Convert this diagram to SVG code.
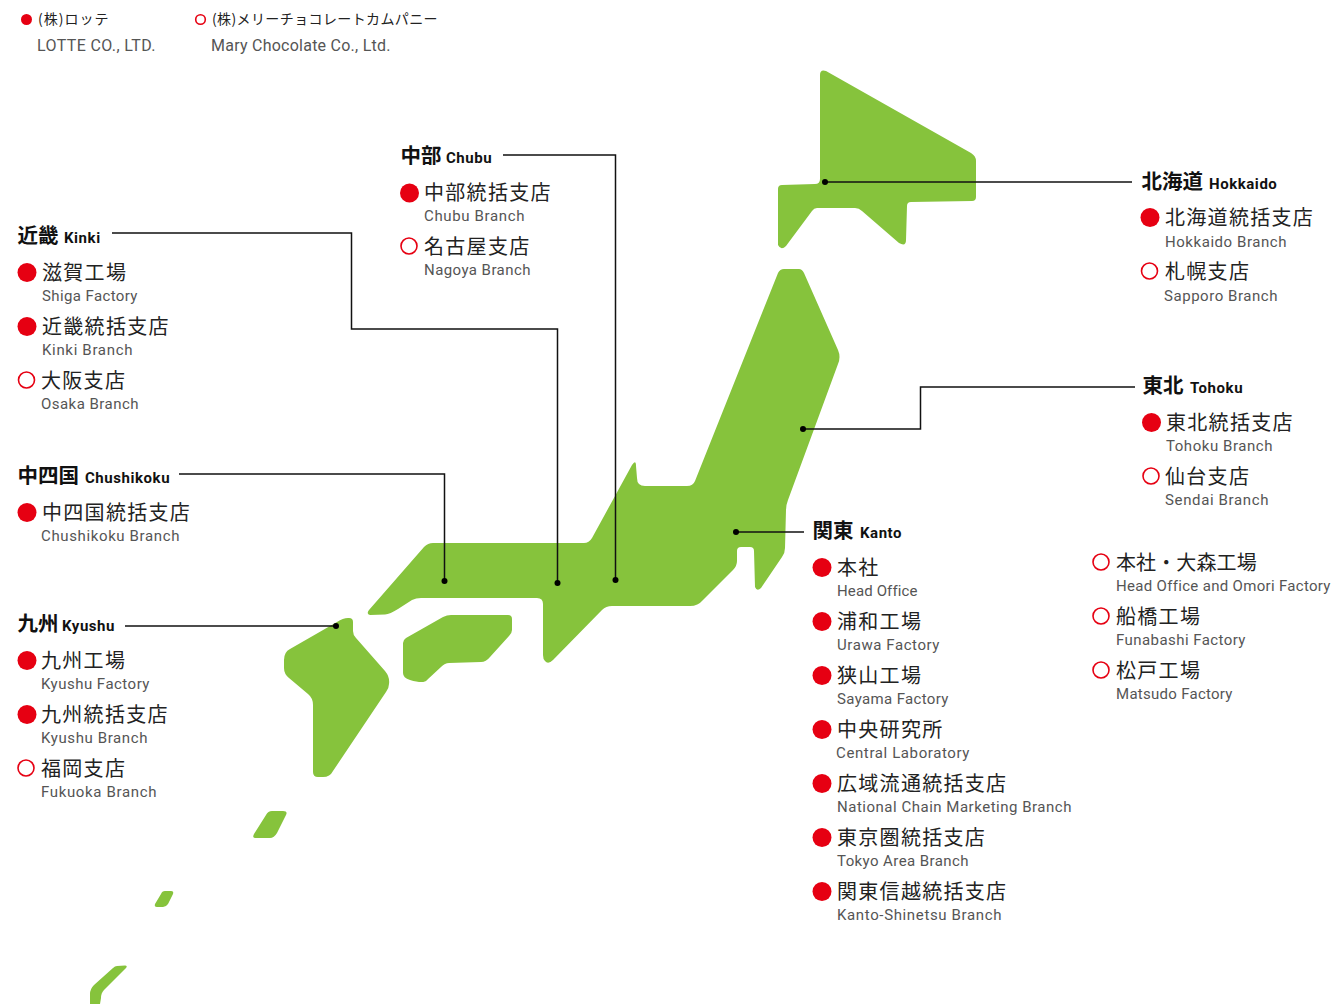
<svg xmlns="http://www.w3.org/2000/svg" width="1336" height="1004" viewBox="0 0 1336 1004">
<style>
text{font-family:"Noto Sans CJK JP","Noto Sans",sans-serif}
.land{fill:#86c33c}
.on{fill:#e60012}
.off{fill:#fff;stroke:#e60012;stroke-width:1.6}
.jp{font-size:20px;letter-spacing:1.3px;fill:#222}
.en{font-family:"Roboto","Liberation Sans",sans-serif;font-size:15px;letter-spacing:.55px;fill:#555}
.h{font-size:20.500px;font-weight:700;fill:#111}
.hl{font-family:"Roboto","Liberation Sans",sans-serif;font-size:15px;letter-spacing:.55px;font-weight:700;fill:#111}
.lg{font-size:14px;letter-spacing:.45px;fill:#222}
.lgen{font-family:"Roboto","Liberation Sans",sans-serif;font-size:16px;letter-spacing:.55px;fill:#555}
.con{fill:none;stroke:#111;stroke-width:1.5;marker-end:url(#dot)}
</style>
<defs><marker id="dot" markerUnits="userSpaceOnUse" markerWidth="8" markerHeight="8" refX="4" refY="4"><circle cx="4" cy="4" r="3" fill="#000"/></marker></defs>
<g id="map">
<path class="land" d="M820,75 Q820,69 826,71 L971,153 Q976,156 976,161 L976,197 Q976,201 972,201 L911,202 Q907,202 907,206 L906,240 Q906,247 899,243 L862,211 Q859,208 855,208 L817,208 Q814,208 812,211 L786,246 Q781,251 778,245 L778,189 Q778,185 782,185 L815,184 Q820,184 820,179 Z"/>
<path class="land" d="M370,615 Q366,614 369,610 L424,547 Q428,543 433,543 L584,543 Q589,543 592,538 L632,465 Q636,459 636,466 L637,478 Q637,486 645,486 L687,486 Q693,486 695,481 L778,273 Q780,269 784,269 L799,269 Q802,269 804,273 L838,350 Q841,357 838,364 L788,500 Q786,505 786,510 L785,548 Q785,553 782,557 L761,588 Q757,592 755,587 L754,551 Q754,547 750,547 L741,547 Q737,547 737,551 L737,561 Q737,566 733,570 L703,600 Q698,606 690,606 L612,606 Q606,606 602,610 L553,660 Q548,665 545,661 Q543,659 543,655 L543,604 Q543,598 537,598 L421,598 Q416,598 412,600 L398,609 Q390,614 385,614.500 Z"/>
<path class="land" d="M403,643 Q403,640 406,638 L443,617 Q447,615 451,615 L508,615 Q512,615 512,619 L512,630 Q512,633 509,636 L490,657 Q486,662 481,662 L449,663 Q445,663 441,667 L427,680 Q424,684 410,680 Q403,678 403,673 Z"/>
<path class="land" d="M337,622 Q343,618 348,618 L349,618 Q353,618 353,622 L353,631 Q353,635 356,638 L385,671 Q390,677 389,684 Q389,688 386,692 L333,771 Q330,777 323,777 L318,777 Q313,777 313,772 L313,705 Q313,698 308,694 L289,678 Q284,674 284,668 L284,660 Q284,652 290,649 Z"/>
<path class="land" d="M272,811 L283,811 Q288,811 286,815 L277,833 Q274,838 270,838 L255,838 Q252,838 254,834 L266,815 Q268,811 272,811 Z"/>
<path class="land" d="M165,891 L171,891 Q174,891 173,894 L168,904 Q166,907 163,907 L157,907 Q154,907 155,904 L161,894 Q162,891 165,891 Z"/>
<path class="land" d="M117,966 L125,965.500 Q128,966 126,968 L104,990 Q101,993 101,998 L100,1004 L90,1004 L90,994 Q90,989 94,985 L113,968 Q115,966 117,966 Z"/>
</g>
<g id="connectors">
<polyline class="con" points="112,233 351.500,233 351.500,329 557.500,329 557.500,583"/>
<polyline class="con" points="503,155 615.500,155 615.500,580"/>
<polyline class="con" points="179,474 444.500,474 444.500,581"/>
<polyline class="con" points="125,626 336,626"/>
<polyline class="con" points="1132,182 825,182"/>
<polyline class="con" points="1135,387 920.500,387 920.500,429 803,429"/>
<polyline class="con" points="804,532 736,532"/>
</g>
<g id="legend">
<circle class="on" cx="26.500" cy="19.500" r="5.500"/><text class="lg" x="38" y="24" textLength="71">(株)ロッテ</text><text class="lgen" x="37" y="51" textLength="119">LOTTE CO., LTD.</text>
<circle class="off" cx="200.500" cy="19.500" r="4.800"/><text class="lg" x="212" y="24" textLength="226">(株)メリーチョコレートカムパニー</text><text class="lgen" x="211" y="51" textLength="180">Mary Chocolate Co., Ltd.</text>
</g>
<g id="chubu">
<text class="h" x="400.500" y="163">中部</text><text class="hl" x="446" y="163">Chubu</text>
<circle class="on" cx="409.500" cy="193" r="9.500"/><text class="jp" x="424" y="200">中部統括支店</text><text class="en" x="424" y="221" textLength="101">Chubu Branch</text>
<circle class="off" cx="409" cy="246" r="8"/><text class="jp" x="424" y="254">名古屋支店</text><text class="en" x="424" y="275" textLength="107">Nagoya Branch</text>
</g>
<g id="kinki">
<text class="h" x="17.500" y="243">近畿</text><text class="hl" x="64" y="243">Kinki</text>
<circle class="on" cx="27" cy="272.500" r="9.500"/><text class="jp" x="42" y="280">滋賀工場</text><text class="en" x="42" y="301" textLength="96">Shiga Factory</text>
<circle class="on" cx="27" cy="326.500" r="9.500"/><text class="jp" x="42" y="334">近畿統括支店</text><text class="en" x="42" y="355" textLength="91">Kinki Branch</text>
<circle class="off" cx="26.500" cy="380" r="8"/><text class="jp" x="41" y="388">大阪支店</text><text class="en" x="41" y="409" textLength="98">Osaka Branch</text>
</g>
<g id="chushikoku">
<text class="h" x="17.500" y="483">中四国</text><text class="hl" x="85" y="483">Chushikoku</text>
<circle class="on" cx="27" cy="512.500" r="9.500"/><text class="jp" x="42" y="520">中四国統括支店</text><text class="en" x="41" y="541" textLength="139">Chushikoku Branch</text>
</g>
<g id="kyushu">
<text class="h" x="17.500" y="631">九州</text><text class="hl" x="62" y="631">Kyushu</text>
<circle class="on" cx="27" cy="660.500" r="9.500"/><text class="jp" x="41" y="668">九州工場</text><text class="en" x="41" y="689" textLength="109">Kyushu Factory</text>
<circle class="on" cx="27" cy="714.500" r="9.500"/><text class="jp" x="41" y="722">九州統括支店</text><text class="en" x="41" y="743" textLength="107">Kyushu Branch</text>
<circle class="off" cx="26" cy="768" r="8"/><text class="jp" x="41" y="776">福岡支店</text><text class="en" x="41" y="797" textLength="116">Fukuoka Branch</text>
</g>
<g id="hokkaido">
<text class="h" x="1141.500" y="189">北海道</text><text class="hl" x="1209" y="189">Hokkaido</text>
<circle class="on" cx="1150" cy="217.500" r="9.500"/><text class="jp" x="1165" y="225">北海道統括支店</text><text class="en" x="1165" y="247" textLength="122">Hokkaido Branch</text>
<circle class="off" cx="1149.500" cy="271" r="8"/><text class="jp" x="1165" y="279">札幌支店</text><text class="en" x="1164" y="301" textLength="114">Sapporo Branch</text>
</g>
<g id="tohoku">
<text class="h" x="1142.500" y="393">東北</text><text class="hl" x="1190" y="393">Tohoku</text>
<circle class="on" cx="1151.500" cy="422.500" r="9.500"/><text class="jp" x="1166" y="430">東北統括支店</text><text class="en" x="1166" y="451" textLength="107">Tohoku Branch</text>
<circle class="off" cx="1151" cy="476" r="8"/><text class="jp" x="1165" y="484">仙台支店</text><text class="en" x="1165" y="505" textLength="104">Sendai Branch</text>
</g>
<g id="kanto">
<text class="h" x="812.500" y="538">関東</text><text class="hl" x="860" y="538">Kanto</text>
<circle class="on" cx="822" cy="567.500" r="9.500"/><text class="jp" x="837" y="575">本社</text><text class="en" x="837" y="596" textLength="81">Head Office</text>
<circle class="on" cx="822" cy="621.500" r="9.500"/><text class="jp" x="837" y="629">浦和工場</text><text class="en" x="837" y="650" textLength="103">Urawa Factory</text>
<circle class="on" cx="822" cy="675.500" r="9.500"/><text class="jp" x="837" y="683">狭山工場</text><text class="en" x="837" y="704" textLength="112">Sayama Factory</text>
<circle class="on" cx="822" cy="729.500" r="9.500"/><text class="jp" x="837" y="737">中央研究所</text><text class="en" x="836" y="758" textLength="134">Central Laboratory</text>
<circle class="on" cx="822" cy="783.500" r="9.500"/><text class="jp" x="837" y="791">広域流通統括支店</text><text class="en" x="837" y="812" textLength="235">National Chain Marketing Branch</text>
<circle class="on" cx="822" cy="837.500" r="9.500"/><text class="jp" x="837" y="845">東京圏統括支店</text><text class="en" x="837" y="866" textLength="132">Tokyo Area Branch</text>
<circle class="on" cx="822" cy="891.500" r="9.500"/><text class="jp" x="837" y="899">関東信越統括支店</text><text class="en" x="837" y="920" textLength="165">Kanto-Shinetsu Branch</text>
</g>
<g id="mary-kanto">
<circle class="off" cx="1101" cy="562" r="8"/><text class="jp" x="1116" y="570" textLength="142">本社・大森工場</text><text class="en" x="1116" y="591" textLength="215">Head Office and Omori Factory</text>
<circle class="off" cx="1101" cy="616" r="8"/><text class="jp" x="1116" y="624">船橋工場</text><text class="en" x="1116" y="645" textLength="130">Funabashi Factory</text>
<circle class="off" cx="1101" cy="670" r="8"/><text class="jp" x="1116" y="678">松戸工場</text><text class="en" x="1116" y="699" textLength="117">Matsudo Factory</text>
</g>
</svg>
